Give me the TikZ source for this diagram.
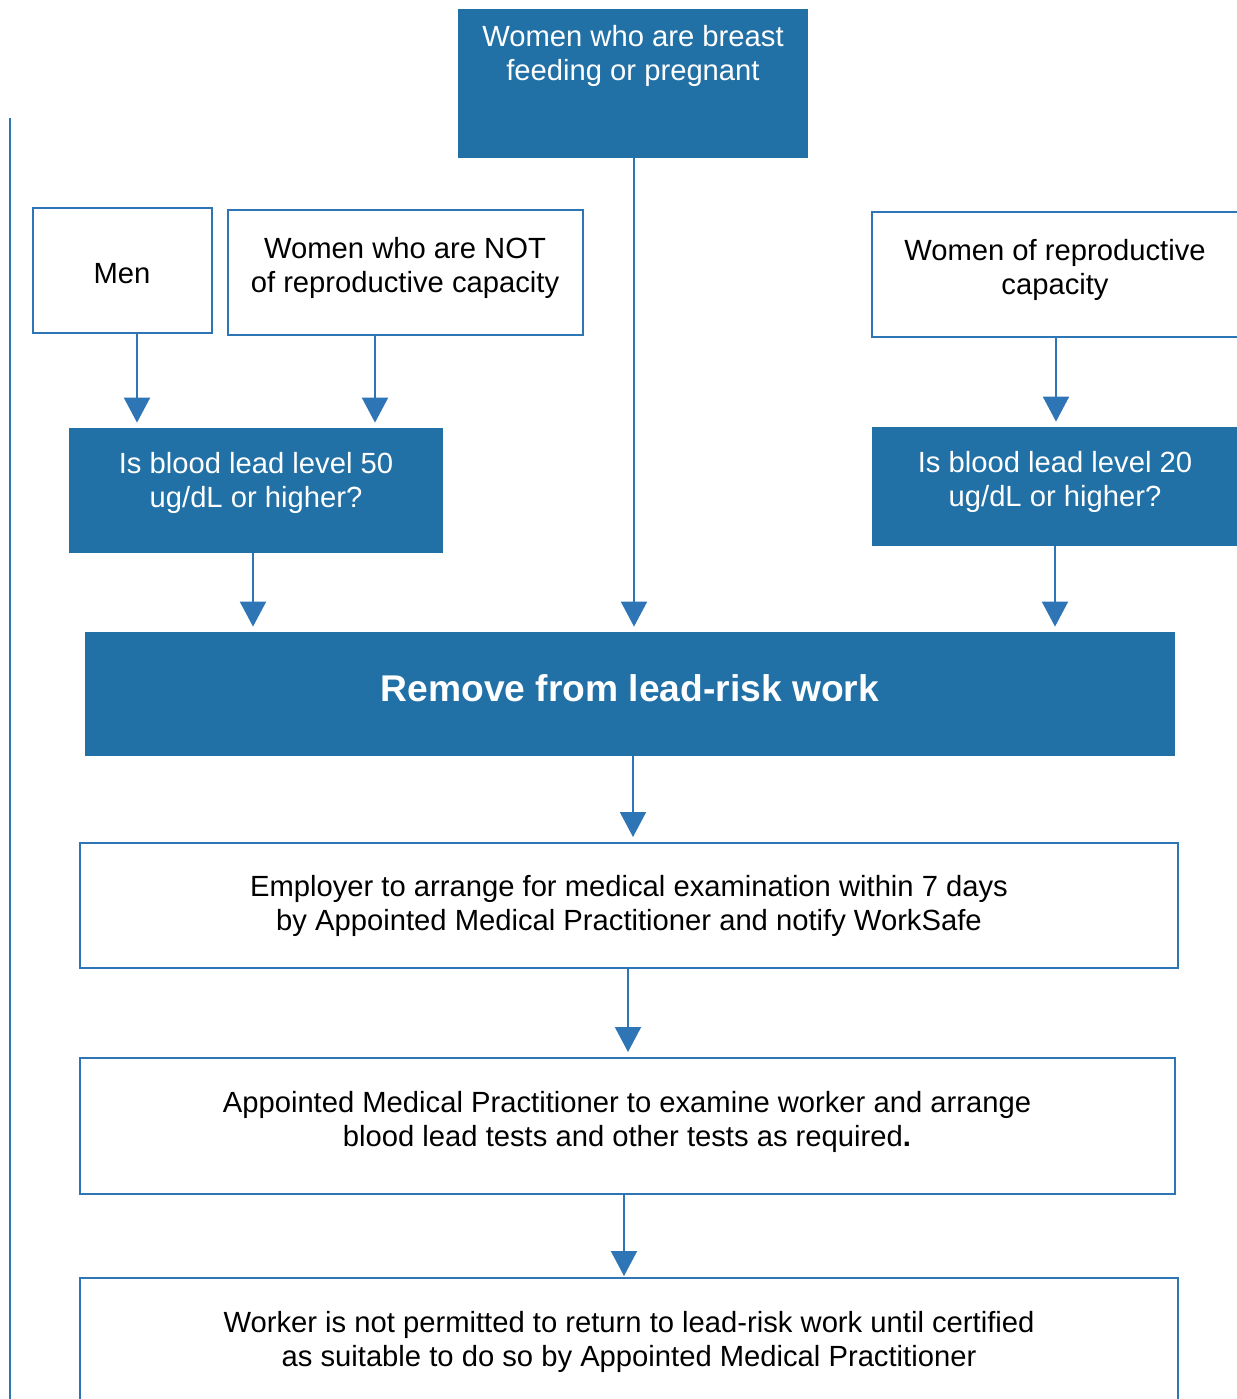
\documentclass[tikz,border=0pt]{standalone}
\usepackage{fontspec}
\setmainfont{Liberation Sans}
\usetikzlibrary{arrows.meta,fit,calc}
\definecolor{fillblue}{HTML}{2170A6}
\definecolor{lineblue}{HTML}{2E75B6}
\begin{document}
\begin{tikzpicture}[x=0.5pt,y=-0.5pt,
  wbox/.style={draw=lineblue,line width=1pt,fill=white,inner sep=0pt},
  bbox/.style={fill=fillblue,inner sep=0pt},
  txt/.style={font=\fontsize{14.6}{17}\selectfont,align=center,inner sep=0pt,yshift=-1.5pt},
  wtxt/.style={txt,text=white},
  arr/.style={draw=lineblue,line width=1pt,-{Triangle[width=13pt,length=12.5pt]},shorten >=2.5pt}
]
\useasboundingbox (0,0) rectangle (1237,1399);
\fill[white] (0,0) rectangle (1237,1399);

% left rule
\coordinate (l1) at (10,118);
\coordinate (l2) at (10,1399);
\draw[lineblue,line width=1pt] (l1) -- (l2);

% boxes
\node[bbox,fit={(458,9)(808,158)}] (preg) {};
\node[wtxt] (pregt) at (633,53) {Women who are breast\\feeding or pregnant};

\node[wbox,fit={(33,208)(212,333)}] (men) {};
\node[txt] (ment) at (122,271) {Men};

\node[wbox,fit={(228,210)(583,335)}] (notrep) {};
\node[txt] (notrept) at (405,265) {Women who are NOT\\of reproductive capacity};

\node[wbox,fit={(872,212)(1250,337)}] (rep) {};
\node[txt] (rept) at (1055,267) {Women of reproductive\\capacity};

\node[bbox,fit={(69,428)(443,553)}] (b50) {};
\node[wtxt] (b50t) at (256,480) {Is blood lead level 50\\ug/dL or higher?};

\node[bbox,fit={(872,427)(1250,546)}] (b20) {};
\node[wtxt] (b20t) at (1055,479) {Is blood lead level 20\\ug/dL or higher?};

\node[bbox,fit={(85,632)(1175,756)}] (remove) {};
\node[wtxt,yshift=1.5pt,font=\fontsize{18.6}{22}\selectfont\bfseries] (removet) at (630,688) {Remove from lead-risk work};

\node[wbox,fit={(80,843)(1178,968)}] (employer) {};
\node[txt] (employert) at (629,903) {Employer to arrange for medical examination within 7 days\\by Appointed Medical Practitioner and notify WorkSafe};

\node[wbox,fit={(80,1058)(1175,1194)}] (amp) {};
\node[txt] (ampt) at (627,1119) {Appointed Medical Practitioner to examine worker and arrange\\blood lead tests and other tests as required\textbf{.}};

\node[wbox,fit={(80,1278)(1178,1430)}] (worker) {};
\node[txt] (workert) at (629,1339) {Worker is not permitted to return to lead-risk work until certified\\as suitable to do so by Appointed Medical Practitioner};

% connectors
\coordinate (c1) at ($(men.south)+(14.5,0)$);
\draw[arr] (c1) -- (c1 |- b50.north);
\coordinate (c2) at ($(notrep.south)+(-30.5,0)$);
\draw[arr] (c2) -- (c2 |- b50.north);
\coordinate (c3) at ($(preg.south)+(1,0)$);
\draw[arr] (c3) -- (c3 |- remove.north);
\coordinate (c4) at ($(rep.south)+(-5,0)$);
\draw[arr] (c4) -- (c4 |- b20.north);
\coordinate (c5) at ($(b50.south)+(-3,0)$);
\draw[arr] (c5) -- (c5 |- remove.north);
\coordinate (c6) at ($(b20.south)+(-6,0)$);
\draw[arr] (c6) -- (c6 |- remove.north);
\coordinate (c7) at ($(remove.south)+(3,0)$);
\draw[arr] (c7) -- (c7 |- employer.north);
\coordinate (c8) at ($(employer.south)+(-1,0)$);
\draw[arr] (c8) -- (c8 |- amp.north);
\coordinate (c9) at ($(amp.south)+(-3.5,0)$);
\draw[arr,shorten >=0.5pt] (c9) -- (c9 |- worker.north);
\end{tikzpicture}
\end{document}
